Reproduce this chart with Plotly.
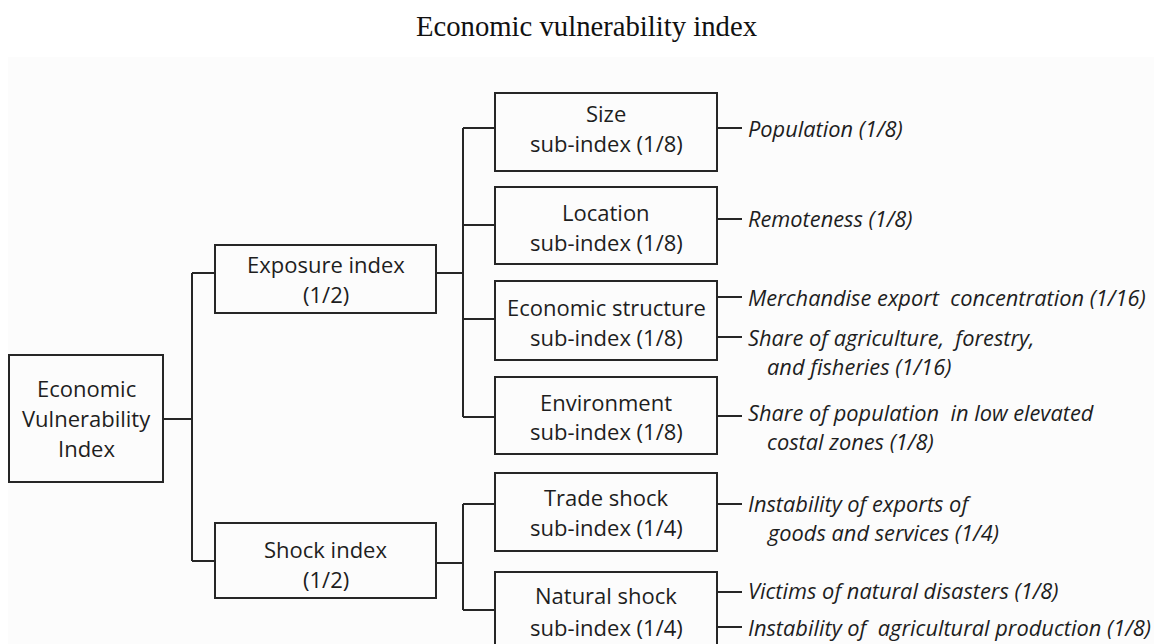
import plotly.graph_objects as go

# ---------------- data (labels and weights) ----------------
title_text = "Economic vulnerability index"
root_label = ["Economic", "Vulnerability", "Index"]
index_names = ["Exposure index", "Shock index"]
index_weights = ["1/2", "1/2"]
sub_names = ["Size", "Location", "Economic structure", "Environment", "Trade shock", "Natural shock"]
sub_weights = ["1/8", "1/8", "1/8", "1/8", "1/4", "1/4"]
sub_parent = [0, 0, 0, 0, 1, 1]
indicator_names = [
    ["Population"],
    ["Remoteness"],
    ["Merchandise export  concentration"],
    ["Share of agriculture,  forestry,", "and fisheries"],
    ["Share of population  in low elevated", "costal zones"],
    ["Instability of exports of", "goods and services"],
    ["Victims of natural disasters"],
    ["Instability of  agricultural production"],
]
indicator_weights = ["1/8", "1/8", "1/16", "1/16", "1/8", "1/4", "1/8", "1/8"]
indicator_parent = [0, 1, 2, 2, 3, 4, 5, 5]

# ---------------- layout geometry (pixels in the page) ----------------
W, H = 1162, 644
PAGE_MARGIN = 8  # browser body margin around the plot div
root_box = (9, 163, 355, 482)
index_boxes = [(215, 436, 245, 313), (215, 436, 523, 598)]
index_in_y = [273, 561]
index_out_y = [273, 563]
sub_boxes = [(495, 717, 93, 171), (495, 717, 187, 264), (495, 717, 281, 360),
             (495, 717, 377, 454), (495, 717, 473, 551), (495, 717, 572, 656)]
sub_in_y = [128, 225, 319, 417, 504, 610]
sub_text_y = [[113, 143], [212, 242], [307, 337], [402, 431], [497, 527], [595, 627]]
index_text_y = [[264, 294], [549, 579]]
root_text_y = [388, 418, 448]
root_out_y = 419
root_bus_x = 192
index_bus_x = 463
leader_end_x = 742
ind_line_y = [128, 219, 297, 337, 416, 504, 592, 627]
ind_text_y = [128, 218, 297, 337, 412, 503, 590, 627]
ind_text_x = 746
ind_indent_x = 765
ind_line_gap = 29

LINE = "#262626"
TXT = "#1e1e1e"
BOX_FONT = dict(family="Open Sans, Noto Sans, sans-serif", size=22, color=TXT)
IT_FONT = dict(family="Open Sans, Noto Sans, sans-serif", size=21.8, color=TXT)

fig = go.Figure()

# connector lines
xs, ys = [], []
def seg(x0, y0, x1, y1):
    xs.extend([x0, x1, None]); ys.extend([y0, y1, None])

seg(root_box[1], root_out_y, root_bus_x, root_out_y)
seg(root_bus_x, min(index_in_y), root_bus_x, max(index_in_y))
for i, b in enumerate(index_boxes):
    seg(root_bus_x, index_in_y[i], b[0], index_in_y[i])
for i, b in enumerate(index_boxes):
    kids = [k for k, p in enumerate(sub_parent) if p == i]
    seg(b[1], index_out_y[i], index_bus_x, index_out_y[i])
    ky = [sub_in_y[k] for k in kids]
    seg(index_bus_x, min(ky), index_bus_x, max(ky))
    for k in kids:
        seg(index_bus_x, sub_in_y[k], sub_boxes[k][0], sub_in_y[k])
for j, p in enumerate(indicator_parent):
    seg(sub_boxes[p][1], ind_line_y[j], leader_end_x, ind_line_y[j])

fig.add_trace(go.Scatter(x=xs, y=ys, mode="lines", line=dict(color=LINE, width=2),
                         hoverinfo="skip", showlegend=False))

shapes = []
shapes.append(dict(type="rect", xref="x", yref="y", x0=8, x1=W, y0=57, y1=H,
                   fillcolor="#fcfcfc", line=dict(width=0), layer="below"))
for b in [root_box] + index_boxes + sub_boxes:
    shapes.append(dict(type="rect", xref="x", yref="y", x0=b[0], x1=b[1], y0=b[2], y1=b[3],
                       line=dict(color=LINE, width=2), fillcolor="rgba(0,0,0,0)"))

ann = []
def add_text(x, y, t, font, xanchor="center"):
    ann.append(dict(x=x, y=y, xref="x", yref="y", text=t, showarrow=False,
                    xanchor=xanchor, yanchor="middle", font=font))

cx = (root_box[0] + root_box[1]) / 2
for t, y in zip(root_label, root_text_y):
    add_text(cx, y, t, BOX_FONT)
for i, b in enumerate(index_boxes):
    cx = (b[0] + b[1]) / 2
    add_text(cx, index_text_y[i][0], index_names[i], BOX_FONT)
    add_text(cx, index_text_y[i][1], f"({index_weights[i]})", BOX_FONT)
for k, b in enumerate(sub_boxes):
    cx = (b[0] + b[1]) / 2
    add_text(cx, sub_text_y[k][0], sub_names[k], BOX_FONT)
    add_text(cx, sub_text_y[k][1], f"sub-index ({sub_weights[k]})", BOX_FONT)
for j, lines in enumerate(indicator_names):
    lines = list(lines)
    lines[-1] = lines[-1] + f" ({indicator_weights[j]})"
    for n, t in enumerate(lines):
        x = ind_text_x if n == 0 else ind_indent_x
        add_text(x, ind_text_y[j] + n * ind_line_gap, f"<i>{t.replace('  ', '&nbsp; ')}</i>", IT_FONT, "left")

ann.append(dict(x=586, y=26, xref="x", yref="y", text=title_text, showarrow=False,
                xanchor="center", yanchor="middle",
                font=dict(family="Liberation Serif, Times New Roman, serif", size=28.7, color="#111111")))

fig.update_layout(
    width=W - PAGE_MARGIN, height=H - PAGE_MARGIN, margin=dict(l=0, r=0, t=0, b=0),
    paper_bgcolor="white", plot_bgcolor="white",
    xaxis=dict(range=[PAGE_MARGIN, W], visible=False, fixedrange=True),
    yaxis=dict(range=[H, PAGE_MARGIN], visible=False, fixedrange=True),
    shapes=shapes, annotations=ann, showlegend=False,
)

fig.write_html("out.html")
